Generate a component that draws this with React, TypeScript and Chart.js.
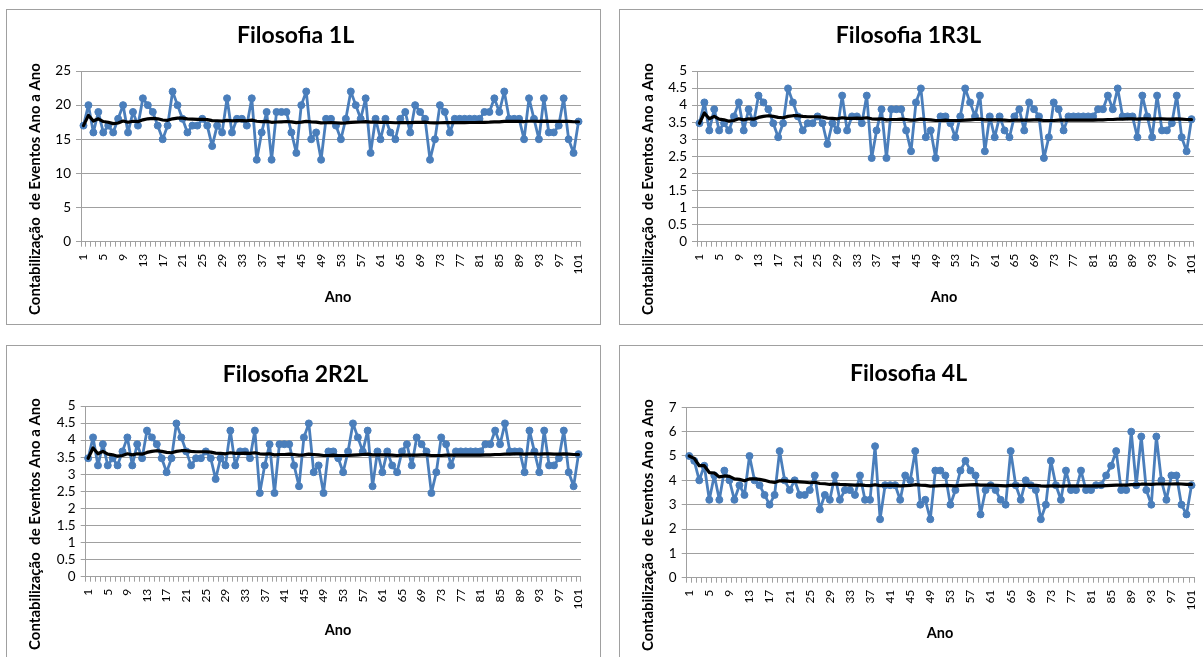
import React, { useEffect, useRef } from 'react';
import { Chart, registerables } from 'chart.js';

Chart.register(...registerables);

const FONT = 'Lato, "Open Sans", sans-serif';
const BLUE = '#4A7EBB';
const GRID = '#A0A0A0';
const CW = 593;
const CH = 314;

// Categories: anos 1..101
const anos: string[] = [
  '1','2','3','4','5','6','7','8','9','10','11','12','13','14','15','16','17','18','19','20',
  '21','22','23','24','25','26','27','28','29','30','31','32','33','34','35','36','37','38','39','40',
  '41','42','43','44','45','46','47','48','49','50','51','52','53','54','55','56','57','58','59','60',
  '61','62','63','64','65','66','67','68','69','70','71','72','73','74','75','76','77','78','79','80',
  '81','82','83','84','85','86','87','88','89','90','91','92','93','94','95','96','97','98','99','100','101'
];

// Filosofia 1L
const valores1L = [
  17, 20, 16, 19, 16, 17, 16, 18, 20, 16,
  19, 17, 21, 20, 19, 17, 15, 17, 22, 20,
  18, 16, 17, 17, 18, 17, 14, 17, 16, 21,
  16, 18, 18, 17, 21, 12, 16, 19, 12, 19,
  19, 19, 16, 13, 20, 22, 15, 16, 12, 18,
  18, 17, 15, 18, 22, 20, 18, 21, 13, 18,
  15, 18, 16, 15, 18, 19, 16, 20, 19, 18,
  12, 15, 20, 19, 16, 18, 18, 18, 18, 18,
  18, 19, 19, 21, 19, 22, 18, 18, 18, 15,
  21, 18, 15, 21, 16, 16, 17, 21, 15, 13, 17.6
];
const media1L = [
  17, 18.5, 17.67, 18, 17.6, 17.5, 17.29, 17.38, 17.67, 17.5,
  17.64, 17.58, 17.85, 18.0, 18.07, 18.0, 17.82, 17.78, 18.0, 18.1,
  18.1, 18.0, 17.96, 17.92, 17.92, 17.88, 17.74, 17.71, 17.66, 17.77,
  17.71, 17.72, 17.73, 17.71, 17.8, 17.64, 17.59, 17.63, 17.49, 17.53,
  17.56, 17.6, 17.56, 17.45, 17.51, 17.61, 17.55, 17.52, 17.41, 17.42,
  17.43, 17.42, 17.38, 17.39, 17.47, 17.52, 17.53, 17.59, 17.51, 17.52,
  17.48, 17.48, 17.46, 17.42, 17.43, 17.45, 17.43, 17.47, 17.49, 17.5,
  17.42, 17.39, 17.42, 17.45, 17.43, 17.43, 17.44, 17.45, 17.46, 17.46,
  17.47, 17.49, 17.51, 17.55, 17.56, 17.62, 17.62, 17.63, 17.63, 17.6,
  17.64, 17.64, 17.61, 17.65, 17.63, 17.61, 17.61, 17.64, 17.62, 17.57, 17.57
];

// Filosofia 1R3L
const valores1R3L = [
  3.47, 4.08, 3.26, 3.88, 3.26, 3.47, 3.26, 3.67, 4.08, 3.26,
  3.88, 3.47, 4.28, 4.08, 3.88, 3.47, 3.06, 3.47, 4.49, 4.08,
  3.67, 3.26, 3.47, 3.47, 3.67, 3.47, 2.86, 3.47, 3.26, 4.28,
  3.26, 3.67, 3.67, 3.47, 4.28, 2.45, 3.26, 3.88, 2.45, 3.88,
  3.88, 3.88, 3.26, 2.65, 4.08, 4.49, 3.06, 3.26, 2.45, 3.67,
  3.67, 3.47, 3.06, 3.67, 4.49, 4.08, 3.67, 4.28, 2.65, 3.67,
  3.06, 3.67, 3.26, 3.06, 3.67, 3.88, 3.26, 4.08, 3.88, 3.67,
  2.45, 3.06, 4.08, 3.88, 3.26, 3.67, 3.67, 3.67, 3.67, 3.67,
  3.67, 3.88, 3.88, 4.28, 3.88, 4.49, 3.67, 3.67, 3.67, 3.06,
  4.28, 3.67, 3.06, 4.28, 3.26, 3.26, 3.47, 4.28, 3.06, 2.65, 3.59
];
const media1R3L = [
  3.47, 3.77, 3.6, 3.67, 3.59, 3.57, 3.53, 3.55, 3.6, 3.57,
  3.6, 3.59, 3.64, 3.67, 3.69, 3.67, 3.64, 3.63, 3.67, 3.69,
  3.69, 3.67, 3.66, 3.66, 3.66, 3.65, 3.62, 3.61, 3.6, 3.63,
  3.61, 3.61, 3.62, 3.61, 3.63, 3.6, 3.59, 3.6, 3.57, 3.58,
  3.58, 3.59, 3.58, 3.56, 3.57, 3.59, 3.58, 3.57, 3.55, 3.55,
  3.56, 3.55, 3.55, 3.55, 3.56, 3.57, 3.58, 3.59, 3.57, 3.57,
  3.57, 3.57, 3.56, 3.55, 3.56, 3.56, 3.56, 3.56, 3.57, 3.57,
  3.55, 3.55, 3.55, 3.56, 3.56, 3.56, 3.56, 3.56, 3.56, 3.56,
  3.56, 3.57, 3.57, 3.58, 3.58, 3.59, 3.59, 3.6, 3.6, 3.59,
  3.6, 3.6, 3.59, 3.6, 3.6, 3.59, 3.59, 3.6, 3.59, 3.58, 3.58
];

// Filosofia 2R2L
const valores2R2L = [
  3.47, 4.08, 3.26, 3.88, 3.26, 3.47, 3.26, 3.67, 4.08, 3.26,
  3.88, 3.47, 4.28, 4.08, 3.88, 3.47, 3.06, 3.47, 4.49, 4.08,
  3.67, 3.26, 3.47, 3.47, 3.67, 3.47, 2.86, 3.47, 3.26, 4.28,
  3.26, 3.67, 3.67, 3.47, 4.28, 2.45, 3.26, 3.88, 2.45, 3.88,
  3.88, 3.88, 3.26, 2.65, 4.08, 4.49, 3.06, 3.26, 2.45, 3.67,
  3.67, 3.47, 3.06, 3.67, 4.49, 4.08, 3.67, 4.28, 2.65, 3.67,
  3.06, 3.67, 3.26, 3.06, 3.67, 3.88, 3.26, 4.08, 3.88, 3.67,
  2.45, 3.06, 4.08, 3.88, 3.26, 3.67, 3.67, 3.67, 3.67, 3.67,
  3.67, 3.88, 3.88, 4.28, 3.88, 4.49, 3.67, 3.67, 3.67, 3.06,
  4.28, 3.67, 3.06, 4.28, 3.26, 3.26, 3.47, 4.28, 3.06, 2.65, 3.59
];
const media2R2L = [
  3.47, 3.77, 3.6, 3.67, 3.59, 3.57, 3.53, 3.55, 3.6, 3.57,
  3.6, 3.59, 3.64, 3.67, 3.69, 3.67, 3.64, 3.63, 3.67, 3.69,
  3.69, 3.67, 3.66, 3.66, 3.66, 3.65, 3.62, 3.61, 3.6, 3.63,
  3.61, 3.61, 3.62, 3.61, 3.63, 3.6, 3.59, 3.6, 3.57, 3.58,
  3.58, 3.59, 3.58, 3.56, 3.57, 3.59, 3.58, 3.57, 3.55, 3.55,
  3.56, 3.55, 3.55, 3.55, 3.56, 3.57, 3.58, 3.59, 3.57, 3.57,
  3.57, 3.57, 3.56, 3.55, 3.56, 3.56, 3.56, 3.56, 3.57, 3.57,
  3.55, 3.55, 3.55, 3.56, 3.56, 3.56, 3.56, 3.56, 3.56, 3.56,
  3.56, 3.57, 3.57, 3.58, 3.58, 3.59, 3.59, 3.6, 3.6, 3.59,
  3.6, 3.6, 3.59, 3.6, 3.6, 3.59, 3.59, 3.6, 3.59, 3.58, 3.58
];

// Filosofia 4L
const valores4L = [
  5.0, 4.8, 4.0, 4.6, 3.2, 4.2, 3.2, 4.4, 4.0, 3.2,
  3.8, 3.4, 5.0, 4.0, 3.8, 3.4, 3.0, 3.4, 5.2, 4.0,
  3.6, 4.0, 3.4, 3.4, 3.6, 4.2, 2.8, 3.4, 3.2, 4.2,
  3.2, 3.6, 3.6, 3.4, 4.2, 3.2, 3.2, 5.4, 2.4, 3.8,
  3.8, 3.8, 3.2, 4.2, 4.0, 5.2, 3.0, 3.2, 2.4, 4.4,
  4.4, 4.2, 3.0, 3.6, 4.4, 4.8, 4.4, 4.2, 2.6, 3.6,
  3.8, 3.6, 3.2, 3.0, 5.2, 3.8, 3.2, 4.0, 3.8, 3.6,
  2.4, 3.0, 4.8, 3.8, 3.2, 4.4, 3.6, 3.6, 4.4, 3.6,
  3.6, 3.8, 3.8, 4.2, 4.6, 5.2, 3.6, 3.6, 6.0, 3.8,
  5.8, 3.6, 3.0, 5.8, 4.0, 3.2, 4.2, 4.2, 3.0, 2.6, 3.8
];
const media4L = [
  5.0, 4.9, 4.6, 4.6, 4.32, 4.3, 4.14, 4.18, 4.16, 4.06,
  4.04, 3.98, 4.06, 4.06, 4.04, 4.0, 3.94, 3.91, 3.98, 3.98,
  3.96, 3.96, 3.94, 3.92, 3.9, 3.92, 3.87, 3.86, 3.83, 3.85,
  3.83, 3.82, 3.81, 3.8, 3.81, 3.79, 3.78, 3.82, 3.78, 3.79,
  3.79, 3.79, 3.77, 3.78, 3.79, 3.82, 3.8, 3.79, 3.76, 3.77,
  3.78, 3.79, 3.78, 3.77, 3.79, 3.8, 3.81, 3.82, 3.8, 3.8,
  3.8, 3.79, 3.78, 3.77, 3.79, 3.79, 3.79, 3.79, 3.79, 3.79,
  3.77, 3.76, 3.77, 3.77, 3.76, 3.77, 3.77, 3.77, 3.77, 3.77,
  3.77, 3.77, 3.77, 3.78, 3.79, 3.8, 3.8, 3.8, 3.82, 3.82,
  3.84, 3.84, 3.83, 3.85, 3.85, 3.85, 3.85, 3.86, 3.85, 3.83, 3.83
];

const Y_TITLE = 'Contabilização  de Eventos Ano a Ano';
const X_TITLE = 'Ano';

type PanelCfg = {
  left: number; top: number; title: string;
  values: number[]; mean: number[];
  yMax: number; yStep: number; yWidth: number;
  chartTop: number; chartBottom: number; titleY: number;
  yTitleX: number; yTitleY: number; xTitleX: number; xTitleY: number;
};

const panels: PanelCfg[] = [
  { left: 6, top: 9, title: 'Filosofia 1L', values: valores1L, mean: media1L, yMax: 25, yStep: 5, yWidth: 74,
    chartTop: 61, chartBottom: 231.7, titleY: 26, yTitleX: 28, yTitleY: 179, xTitleX: 331, xTitleY: 287 },
  { left: 619, top: 9, title: 'Filosofia 1R3L', values: valores1R3L, mean: media1R3L, yMax: 5, yStep: 0.5, yWidth: 77,
    chartTop: 61, chartBottom: 231.7, titleY: 26, yTitleX: 28, yTitleY: 179, xTitleX: 324, xTitleY: 287 },
  { left: 6, top: 345, title: 'Filosofia 2R2L', values: valores2R2L, mean: media2R2L, yMax: 5, yStep: 0.5, yWidth: 78.7,
    chartTop: 60, chartBottom: 230.7, titleY: 29, yTitleX: 28, yTitleY: 178, xTitleX: 331, xTitleY: 284 },
  { left: 619, top: 345, title: 'Filosofia 4L', values: valores4L, mean: media4L, yMax: 7, yStep: 1, yWidth: 66.7,
    chartTop: 61.3, chartBottom: 231.7, titleY: 28, yTitleX: 28, yTitleY: 179, xTitleX: 320, xTitleY: 287 },
];

const axisTitlesPlugin = {
  id: 'axisTitles',
  afterDraw(chart: any, _args: any, opts: any) {
    const ctx = chart.ctx as CanvasRenderingContext2D;
    ctx.save();
    ctx.fillStyle = '#000';
    ctx.textAlign = 'center';
    ctx.textBaseline = 'middle';
    ctx.font = `bold 14.5px ${FONT}`;
    ctx.fillText(X_TITLE, opts.xX, opts.xY);
    ctx.font = `bold 15px ${FONT}`;
    ctx.translate(opts.yX, opts.yY);
    ctx.rotate(-Math.PI / 2);
    ctx.fillText(Y_TITLE, 0, 0);
    ctx.restore();
  },
};

function Panel({ cfg }: { cfg: PanelCfg }) {
  const ref = useRef<HTMLCanvasElement | null>(null);
  useEffect(() => {
    if (!ref.current) return;
    const titleSize = 23;
    const titleLH = titleSize * 1.2;
    const chart = new Chart(ref.current, {
      type: 'line',
      data: {
        labels: anos,
        datasets: [
          { data: cfg.mean, borderColor: '#000', borderWidth: 3.2, pointRadius: 0, tension: 0, order: 0, fill: false,
            borderJoinStyle: 'round', borderCapStyle: 'round' },
          { data: cfg.values, borderColor: BLUE, backgroundColor: BLUE, borderWidth: 2.8, tension: 0, order: 1, fill: false,
            borderJoinStyle: 'round', borderCapStyle: 'round',
            pointRadius: 3.5, pointBackgroundColor: BLUE, pointBorderColor: BLUE, pointBorderWidth: 1 },
        ],
      },
      options: {
        responsive: false,
        animation: false,
        events: [],
        layout: { padding: { left: 0, right: 16, top: 0, bottom: 0 } },
        plugins: {
          legend: { display: false },
          tooltip: { enabled: false },
          title: {
            display: true,
            text: cfg.title,
            color: '#000',
            font: { family: FONT, size: titleSize, weight: 'bold', lineHeight: 1.2 },
            padding: { top: cfg.titleY - titleLH / 2, bottom: cfg.chartTop - cfg.titleY - titleLH / 2 },
          },
          axisTitles: { xX: cfg.xTitleX, xY: cfg.xTitleY, yX: cfg.yTitleX, yY: cfg.yTitleY },
        } as any,
        scales: {
          x: {
            type: 'category',
            offset: true,
            grid: { offset: true, drawOnChartArea: false, drawTicks: true, tickLength: 5, color: GRID },
            border: { color: GRID },
            ticks: {
              autoSkip: false, minRotation: 90, maxRotation: 90, padding: 7, color: '#000',
              font: { family: FONT, size: 12 },
              callback: (_v: any, i: number) => (i % 4 === 0 ? anos[i] : ''),
            },
            afterFit: (s: any) => { s.height = CH - cfg.chartBottom; },
          },
          y: {
            min: 0,
            max: cfg.yMax,
            ticks: {
              stepSize: cfg.yStep, autoSkip: false, padding: 5, color: '#000', font: { family: FONT, size: 13.5 },
              callback: (v: any) => String(Math.round(Number(v) * 10) / 10),
            },
            grid: { color: GRID, tickLength: 5 },
            border: { color: GRID },
            afterFit: (s: any) => { s.width = cfg.yWidth; },
          },
        },
      } as any,
      plugins: [axisTitlesPlugin],
    });
    return () => chart.destroy();
  }, [cfg]);
  return (
    <div style={{ position: 'absolute', left: cfg.left, top: cfg.top, width: CW, height: CH, border: `1px solid ${GRID}`, background: '#fff' }}>
      <canvas ref={ref} width={CW} height={CH} style={{ display: 'block', width: CW, height: CH }} />
    </div>
  );
}

export default function App() {
  return (
    <div style={{ position: 'fixed', left: 0, top: 0, width: 1203, height: 657, overflow: 'hidden', background: '#fff' }}>
      {panels.map((p) => <Panel key={p.title} cfg={p} />)}
    </div>
  );
}
